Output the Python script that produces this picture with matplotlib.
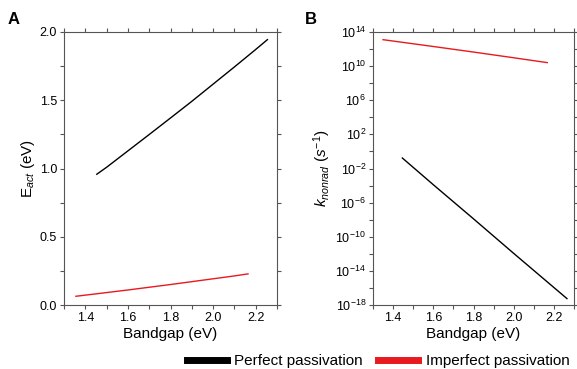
import matplotlib
matplotlib.use("Agg")
import matplotlib.pyplot as plt
import numpy as np
from matplotlib.lines import Line2D
from matplotlib.ticker import MultipleLocator, FixedLocator, NullFormatter

plt.rcParams['font.family'] = ['Liberation Sans', 'DejaVu Sans']
plt.rcParams['mathtext.fontset'] = 'custom'
plt.rcParams['mathtext.rm'] = 'Liberation Sans'
plt.rcParams['mathtext.it'] = 'Liberation Sans:italic'

# Panel A: activation energy vs bandgap
eg_perfect_a = [1.454, 1.5, 1.6, 1.7, 1.8, 1.9, 2.0, 2.1, 2.2, 2.255]
eact_perfect = [0.958, 1.009, 1.129, 1.249, 1.370, 1.492, 1.618, 1.744, 1.872, 1.944]
eg_imperfect_a = [1.356, 1.5, 1.6, 1.7, 1.8, 1.9, 2.0, 2.1, 2.164]
eact_imperfect = [0.064, 0.091, 0.110, 0.130, 0.150, 0.171, 0.192, 0.213, 0.228]

# Panel B: log10 of nonradiative rate vs bandgap
eg_perfect_b = [1.446, 1.6, 1.8, 2.0, 2.2, 2.265]
logk_perfect = [-0.77, -3.9, -7.9, -11.95, -15.95, -17.25]
eg_imperfect_b = [1.35, 1.6, 1.8, 2.0, 2.167]
logk_imperfect = [13.1, 12.3, 11.65, 10.98, 10.41]

red = '#e8191f'
W, H = 577, 369
fig = plt.figure(figsize=(W / 100, H / 100), dpi=100)

axA = fig.add_axes([64 / W, (H - 305) / H, 213 / W, 273 / H])
axB = fig.add_axes([373 / W, (H - 305) / H, 201 / W, 273 / H])

axA.plot(eg_perfect_a, eact_perfect, color='black', lw=1.0)
axA.plot(eg_imperfect_a, eact_imperfect, color=red, lw=1.0)
axA.set_xlim(1.3, 2.3)
axA.set_ylim(0, 2.0)
axA.set_xticks([1.4, 1.6, 1.8, 2.0, 2.2])
axA.xaxis.set_minor_locator(MultipleLocator(0.1))
axA.yaxis.set_major_locator(MultipleLocator(0.5))
axA.yaxis.set_minor_locator(MultipleLocator(0.25))
axA.set_ylabel('E$_{act}$ (eV)', fontsize=11, labelpad=2)
axA.set_xlabel('Bandgap (eV)', fontsize=11, labelpad=2)

axB.plot(eg_perfect_b, 10.0 ** np.array(logk_perfect), color='black', lw=1.0)
axB.plot(eg_imperfect_b, 10.0 ** np.array(logk_imperfect), color=red, lw=1.0)
axB.set_yscale('log')
axB.set_xlim(1.3, 2.3)
axB.set_ylim(1e-18, 1e14)
axB.set_xticks([1.4, 1.6, 1.8, 2.0, 2.2])
axB.xaxis.set_minor_locator(MultipleLocator(0.1))
axB.yaxis.set_major_locator(FixedLocator([10.0 ** e for e in range(-18, 15, 4)]))
axB.yaxis.set_minor_locator(FixedLocator([10.0 ** e for e in range(-16, 14, 4)]))
axB.yaxis.set_minor_formatter(NullFormatter())
axB.set_ylabel('$k_{nonrad}$ $(s^{-1})$', fontsize=11, labelpad=2)
axB.set_xlabel('Bandgap (eV)', fontsize=11, labelpad=2)

for ax in (axA, axB):
    ax.tick_params(which='both', direction='out', top=True, right=True,
                   labeltop=False, labelright=False, labelsize=9,
                   color='#555555', pad=2)
    ax.tick_params(which='both', length=3, width=0.8)
    for s in ax.spines.values():
        s.set_color('#555555')
        s.set_linewidth(0.8)

fig.text(8 / W, 1 - 20 / H, 'A', fontsize=12, fontweight='bold', va='center')
fig.text(305 / W, 1 - 20 / H, 'B', fontsize=12, fontweight='bold', va='center')

handles = [Line2D([0], [0], color='black', lw=5),
           Line2D([0], [0], color=red, lw=5)]
fig.legend(handles, ['Perfect passivation', 'Imperfect passivation'],
           loc='center right', bbox_to_anchor=(1.0, 1 - 361 / H), ncol=2,
           frameon=False, fontsize=11, handlelength=2.6, handletextpad=0.5,
           columnspacing=1.0, borderaxespad=0.1)

fig.savefig('out.png', dpi=100)
